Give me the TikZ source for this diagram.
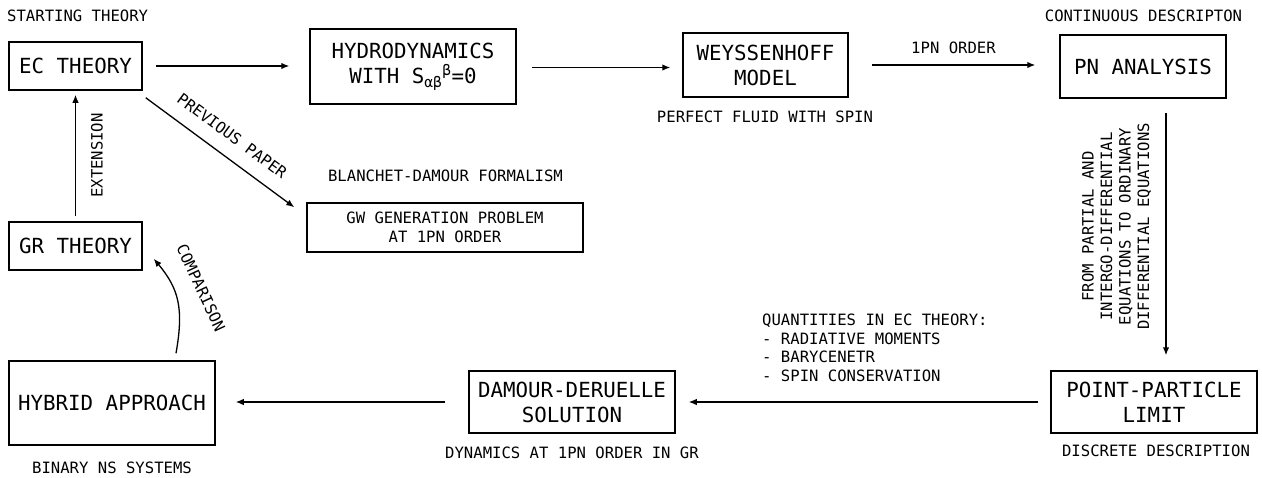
\documentclass[tikz,border=0pt]{standalone}
\usepackage{amsmath}
\usepackage{fontspec}
\setmonofont{DejaVu Sans Mono}
\usetikzlibrary{arrows.meta}

\newcommand{\bigtxt}{\ttfamily\fontsize{20.8}{25}\selectfont}
\newcommand{\smalltxt}{\ttfamily\fontsize{15.6}{18.5}\selectfont}

\begin{document}
\begin{tikzpicture}[x=1pt,y=-1pt,
	box/.style={draw=black,line width=1.5pt,font=\bigtxt,align=center,inner sep=0pt},
	lbl/.style={font=\smalltxt,inner sep=0pt},
	arr/.style={-{Latex[length=8pt,width=6.5pt]},line width=1.3pt}]

	\useasboundingbox (0,0) rectangle (1262,477);

	\node[box,minimum width=133pt,minimum height=48pt] (ec) at (75.5,66) {EC THEORY};
	\node[box,minimum width=206pt,minimum height=75pt] (hydro) at (413,66.5) {HYDRODYNAMICS\\WITH S$_{\text{αβ}}{}^{\text{β}}$=0};
	\node[box,minimum width=165pt,minimum height=64pt] (weyss) at (765.5,65) {WEYSSENHOFF\\MODEL};
	\node[box,minimum width=166pt,minimum height=63pt] (pn) at (1143,66.5) {PN ANALYSIS};
	\node[box,minimum width=133pt,minimum height=48pt] (gr) at (75.5,246) {GR THEORY};
	\node[box,font=\smalltxt,minimum width=276pt,minimum height=49pt] (gw) at (445,227.5) {GW GENERATION PROBLEM\\AT 1PN ORDER};
	\node[box,minimum width=206pt,minimum height=84pt] (hybrid) at (112,403) {HYBRID APPROACH};
	\node[box,minimum width=206pt,minimum height=62pt] (damour) at (572,402) {DAMOUR-DERUELLE\\SOLUTION};
	\node[box,minimum width=206pt,minimum height=62pt] (point) at (1154,402) {POINT-PARTICLE\\LIMIT};

	\node[lbl,anchor=west] (start) at (7,16) {STARTING THEORY};
	\node[lbl] (contdesc) at (1143.5,16) {CONTINUOUS DESCRIPTON};
	\node[lbl] (perfect) at (765,117) {PERFECT FLUID WITH SPIN};
	\node[lbl] (blanchet) at (445.5,176) {BLANCHET-DAMOUR FORMALISM};
	\node[lbl] (binary) at (112,468) {BINARY NS SYSTEMS};
	\node[lbl] (dynamics) at (572,453) {DYNAMICS AT 1PN ORDER IN GR};
	\node[lbl] (discrete) at (1156,451) {DISCRETE DESCRIPTION};
	\node[lbl,align=left,anchor=north west] (quant) at (762,314) {QUANTITIES IN EC THEORY:\\- RADIATIVE MOMENTS\\- BARYCENETR\\- SPIN CONSERVATION};
	\node[lbl,align=center,rotate=90] (pde) at (1116.5,226.5) {FROM PARTIAL AND\\INTERGO-DIFFERENTIAL\\EQUATIONS TO ORDINARY\\DIFFERENTIAL EQUATIONS};
	\node[lbl,rotate=-65] (cmp) at (201,288) {COMPARISON};

	\draw[arr] ([xshift=13pt]ec.east) -- ([xshift=-20pt]ec.east -| hydro.west);
	\draw[arr] ([xshift=15pt,yshift=-1pt]hydro.east) -- ([xshift=-12pt,yshift=-1pt]hydro.east -| weyss.west);
	\draw[arr] ([xshift=23pt]weyss.east) -- node[lbl,above=11pt] (order) {1PN ORDER} ([xshift=-24pt]weyss.east -| pn.west);
	\draw[arr] ([xshift=23pt,yshift=-14pt]pn.south) -- ([xshift=12pt,yshift=15pt]point.north);
	\draw[arr] ([xshift=-12pt]point.west) -- ([xshift=13pt]damour.east);
	\draw[arr] ([xshift=-23pt]damour.west) -- ([xshift=20pt]damour.west -| hybrid.east);
	\draw[arr] ([xshift=64pt,yshift=7pt]hybrid.north) .. controls +(8,-45) and +(25,30) .. ([xshift=11pt,yshift=12pt]gr.south east);
	\draw[arr] ([yshift=5pt]gr.north) -- node[lbl,sloped,below=15pt] (ext) {EXTENSION} ([yshift=-4pt]ec.south);
	\draw[arr] ([xshift=3pt,yshift=-7pt]ec.south east) -- node[lbl,sloped,above=14pt] (prev) {PREVIOUS PAPER} ([xshift=-12pt,yshift=-5pt]gw.north west);

\end{tikzpicture}
\end{document}
